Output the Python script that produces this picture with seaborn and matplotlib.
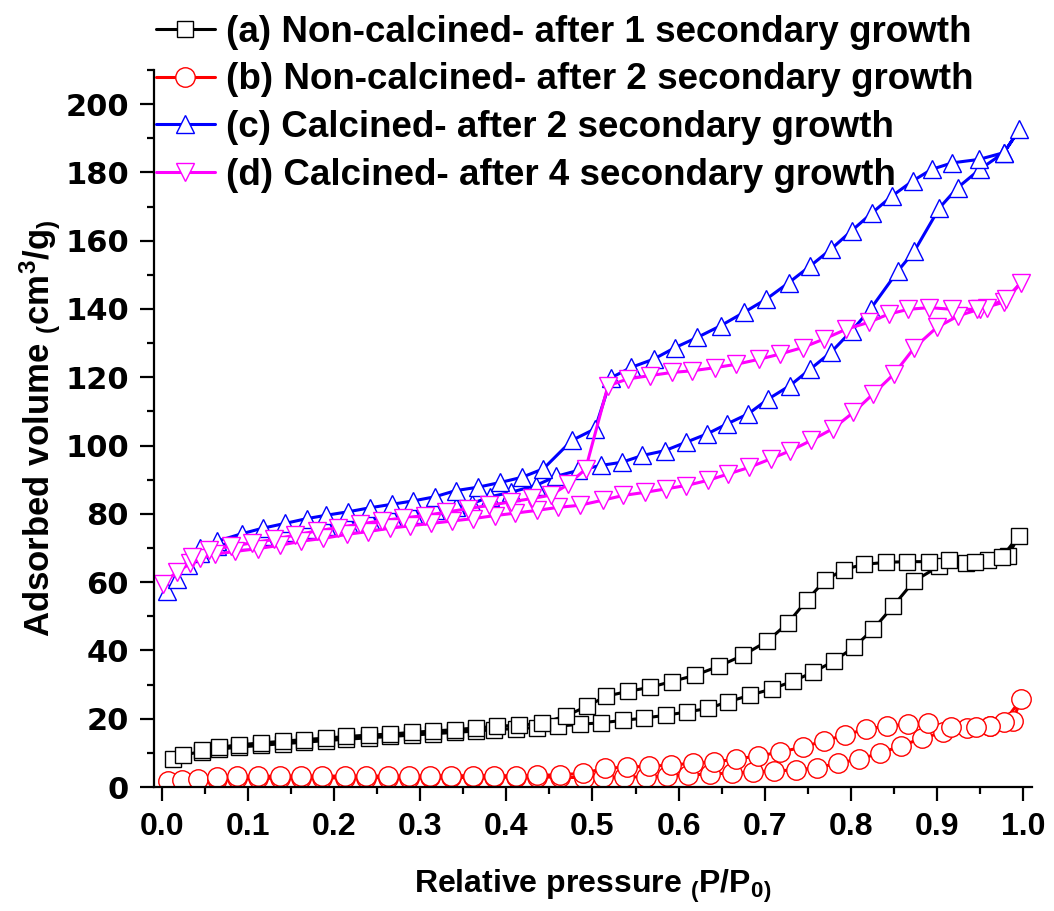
import numpy as np
import pandas as pd
import matplotlib
matplotlib.use('Agg')
import matplotlib.pyplot as plt
import seaborn as sns
from matplotlib.ticker import MultipleLocator

# isotherm data: adsorption branch (low -> high P/P0) and desorption branch (high -> low)
a_ads_p = [0.013, 0.024, 0.046, 0.066, 0.09, 0.115, 0.14, 0.165, 0.19, 0.214, 0.24, 0.265, 0.29, 0.315,
           0.34, 0.365, 0.386, 0.411, 0.435, 0.46, 0.486, 0.51, 0.535, 0.56, 0.585, 0.61, 0.634, 0.657,
           0.683, 0.708, 0.733, 0.756, 0.78, 0.804, 0.826, 0.849, 0.873, 0.902, 0.934, 0.96, 0.983, 0.995]
a_ads_v = [8.2, 9.3, 10.4, 11.1, 11.7, 12.2, 12.7, 13.1, 13.6, 14.0, 14.4, 14.8, 15.2, 15.6,
           16.0, 16.4, 16.8, 17.1, 17.4, 17.8, 18.4, 18.8, 19.5, 20.2, 21.0, 22.0, 23.0, 24.9,
           26.9, 28.7, 31.0, 33.6, 36.8, 41.0, 46.2, 52.9, 60.2, 64.6, 65.5, 66.6, 67.8, 73.5]
a_des_p = [0.976, 0.944, 0.914, 0.891, 0.865, 0.841, 0.815, 0.792, 0.77, 0.749, 0.727, 0.703, 0.675,
           0.647, 0.619, 0.592, 0.567, 0.541, 0.516, 0.494, 0.469, 0.441, 0.415, 0.389, 0.365, 0.34,
           0.315, 0.29, 0.265, 0.24, 0.214, 0.19, 0.165, 0.14, 0.115, 0.09, 0.066, 0.046]
a_des_v = [67.5, 66.0, 66.4, 66.0, 66.0, 65.8, 65.2, 63.7, 60.5, 54.7, 48.0, 42.7, 38.6,
           35.4, 32.7, 30.9, 29.2, 28.0, 26.6, 23.7, 20.8, 18.7, 18.1, 17.8, 17.3, 16.8,
           16.4, 16.0, 15.5, 15.2, 14.8, 14.3, 13.9, 13.4, 12.9, 12.4, 11.6, 10.9]

b_ads_p = [0.007, 0.023, 0.042, 0.064, 0.087, 0.112, 0.137, 0.162, 0.186, 0.212, 0.237, 0.262, 0.287,
           0.311, 0.336, 0.361, 0.386, 0.411, 0.436, 0.462, 0.49, 0.512, 0.537, 0.562, 0.587, 0.611,
           0.636, 0.662, 0.686, 0.711, 0.736, 0.761, 0.785, 0.81, 0.834, 0.858, 0.883, 0.907, 0.935,
           0.962, 0.988, 0.998]
b_ads_v = [1.8, 2.1, 2.3, 2.4, 2.5, 2.5, 2.6, 2.6, 2.6, 2.7, 2.7, 2.7, 2.7,
           2.8, 2.8, 2.8, 2.8, 2.9, 2.9, 2.9, 2.7, 2.8, 2.9, 3.0, 3.2, 3.5,
           3.8, 4.1, 4.4, 4.7, 5.0, 5.6, 7.0, 8.2, 9.9, 12.0, 14.3, 16.0, 17.3,
           17.8, 19.3, 25.8]
b_des_p = [0.978, 0.962, 0.946, 0.916, 0.89, 0.866, 0.842, 0.818, 0.793, 0.769, 0.744, 0.718, 0.692,
           0.667, 0.641, 0.617, 0.591, 0.566, 0.54, 0.515, 0.489, 0.462, 0.436, 0.411, 0.386, 0.361,
           0.336, 0.311, 0.287, 0.262, 0.237, 0.212, 0.186, 0.162, 0.137, 0.112, 0.087, 0.064]
b_des_v = [19.0, 17.8, 17.5, 17.5, 18.7, 18.4, 17.8, 17.0, 15.2, 13.5, 11.7, 10.2, 9.1,
           8.2, 7.3, 7.0, 6.4, 6.1, 5.8, 5.5, 4.0, 3.6, 3.4, 3.3, 3.3, 3.3,
           3.3, 3.2, 3.2, 3.2, 3.2, 3.2, 3.2, 3.2, 3.2, 3.1, 3.1, 3.0]

c_ads_p = [0.006, 0.017, 0.03, 0.044, 0.064, 0.093, 0.117, 0.143, 0.168, 0.191, 0.216, 0.242, 0.267,
           0.292, 0.317, 0.342, 0.36, 0.381, 0.405, 0.434, 0.458, 0.483, 0.51, 0.534, 0.558, 0.584,
           0.609, 0.633, 0.656, 0.681, 0.704, 0.729, 0.753, 0.777, 0.801, 0.823, 0.855, 0.874, 0.903,
           0.924, 0.95, 0.978, 0.996]
c_ads_v = [57.5, 61.0, 65.0, 68.5, 70.5, 72.3, 73.6, 74.6, 75.6, 76.5, 77.4, 78.3, 79.2,
           80.1, 81.0, 82.0, 83.0, 85.0, 86.3, 88.3, 91.0, 92.7, 94.2, 95.1, 97.1, 98.5,
           101.0, 103.4, 106.3, 109.3, 113.6, 117.5, 122.4, 127.3, 133.6, 140.0, 151.2, 157.0, 169.6,
           175.5, 180.9, 185.8, 192.6]
c_des_p = [0.978, 0.949, 0.918, 0.894, 0.872, 0.848, 0.825, 0.801, 0.777, 0.753, 0.728, 0.702, 0.676,
           0.649, 0.622, 0.596, 0.571, 0.545, 0.522, 0.503, 0.476, 0.443, 0.418, 0.393, 0.367, 0.341,
           0.317, 0.292, 0.267, 0.242, 0.216, 0.191, 0.168, 0.143, 0.117, 0.093, 0.064, 0.044]
c_des_v = [185.8, 183.8, 182.8, 180.9, 177.5, 173.1, 168.2, 162.9, 157.5, 152.6, 147.7, 142.9, 139.0,
           135.1, 131.7, 128.7, 125.3, 122.9, 119.9, 104.9, 101.5, 93.2, 90.7, 89.2, 87.8, 86.8,
           85.0, 83.8, 82.8, 81.8, 80.6, 79.6, 78.6, 77.2, 75.8, 74.2, 72.0, 70.0]

d_ads_p = [0.001, 0.017, 0.033, 0.044, 0.062, 0.085, 0.111, 0.137, 0.162, 0.187, 0.215, 0.239, 0.265,
           0.288, 0.313, 0.337, 0.361, 0.387, 0.41, 0.435, 0.46, 0.485, 0.512, 0.536, 0.561, 0.585,
           0.609, 0.634, 0.658, 0.682, 0.707, 0.73, 0.754, 0.779, 0.803, 0.826, 0.85, 0.874, 0.9,
           0.925, 0.95, 0.978, 0.998]
d_ads_v = [59.6, 62.9, 65.5, 67.0, 68.2, 69.0, 69.8, 70.8, 72.0, 72.8, 74.0, 74.8, 75.8,
           76.5, 77.2, 77.9, 78.6, 79.5, 80.2, 81.0, 81.9, 82.5, 84.0, 85.4, 86.3, 87.3,
           88.3, 89.8, 91.7, 93.6, 96.1, 98.5, 101.5, 104.9, 109.7, 115.1, 120.9, 128.7, 134.6,
           138.0, 140.0, 142.0, 147.7]
d_des_p = [0.98, 0.958, 0.947, 0.918, 0.891, 0.867, 0.844, 0.821, 0.795, 0.769, 0.744, 0.718, 0.694,
           0.667, 0.642, 0.616, 0.592, 0.567, 0.541, 0.518, 0.492, 0.472, 0.452, 0.43, 0.405, 0.38,
           0.355, 0.33, 0.305, 0.28, 0.255, 0.23, 0.205, 0.18, 0.155, 0.13, 0.105, 0.08, 0.055, 0.035]
d_des_v = [143.0, 140.4, 139.9, 139.9, 140.4, 139.9, 138.5, 136.1, 134.1, 131.2, 128.7, 126.8, 125.3,
           123.8, 122.8, 121.9, 121.4, 120.5, 119.5, 117.5, 93.1, 88.7, 85.5, 84.5, 83.5, 82.5,
           81.5, 80.5, 79.5, 78.8, 78.0, 77.0, 76.0, 75.0, 73.8, 72.5, 71.5, 70.5, 69.5, 67.5]

labels = ['(a) Non-calcined- after 1 secondary growth',
          '(b) Non-calcined- after 2 secondary growth',
          '(c) Calcined- after 2 secondary growth',
          '(d) Calcined- after 4 secondary growth']
colors = ['#000000', '#FF0000', '#0000FF', '#FF00FF']
markers = ['s', 'o', '^', 'v']
x_ticks = [0.0, 0.1, 0.2, 0.3, 0.4, 0.5, 0.6, 0.7, 0.8, 0.9, 1.0]
y_ticks = [0, 20, 40, 60, 80, 100, 120, 140, 160, 180, 200]

sns.set_style('ticks')
plt.rcParams['font.family'] = ['Liberation Sans', 'DejaVu Sans']
plt.rcParams['text.color'] = 'black'
plt.rcParams['axes.labelcolor'] = 'black'
plt.rcParams['xtick.color'] = 'black'
plt.rcParams['ytick.color'] = 'black'
plt.rcParams['mathtext.fontset'] = 'custom'
plt.rcParams['mathtext.rm'] = 'Liberation Sans:bold'
plt.rcParams['mathtext.it'] = 'Liberation Sans:bold'
plt.rcParams['mathtext.bf'] = 'Liberation Sans:bold'

fig, ax = plt.subplots(figsize=(10.54, 9.11), dpi=100)
fig.subplots_adjust(left=0.1461, right=0.9791, bottom=0.1361, top=0.9232)

series = [(a_ads_p, a_ads_v, a_des_p, a_des_v),
          (b_ads_p, b_ads_v, b_des_p, b_des_v),
          (c_ads_p, c_ads_v, c_des_p, c_des_v),
          (d_ads_p, d_ads_v, d_des_p, d_des_v)]
sizes = [12, 14, 13, 13]

for i, (ap, av, dp, dv) in enumerate(series):
    df = pd.DataFrame({'p': ap + dp, 'v': av + dv})
    sns.lineplot(data=df, x='p', y='v', sort=False, estimator=None, ax=ax,
                 color=colors[i], linewidth=2.2, marker=markers[i], markersize=sizes[i],
                 markerfacecolor='white', markeredgecolor=colors[i], markeredgewidth=1.0,
                 label=labels[i])

ax.set_xlim(-0.0093, 1.0105)
ax.set_ylim(0, 210)
ax.set_xticks(x_ticks, labels=['%.1f' % t for t in x_ticks], fontsize=23, fontweight='bold',
              color='black')
ax.set_yticks(y_ticks, labels=[str(t) for t in y_ticks], fontsize=22, fontweight='bold',
              fontfamily='DejaVu Sans', color='black')
ax.xaxis.set_minor_locator(MultipleLocator(0.05))
ax.yaxis.set_minor_locator(MultipleLocator(10))
ax.tick_params(which='major', direction='out', length=10, width=1.6, color='black')
ax.tick_params(which='minor', direction='out', length=5, width=1.6, color='black')
ax.tick_params(axis='x', pad=8)
ax.tick_params(axis='y', pad=8)
sns.despine(ax=ax)
for s in ['left', 'bottom']:
    ax.spines[s].set_linewidth(1.6)
    ax.spines[s].set_color('black')

ax.set_ylabel(r'Adsorbed volume $_{(}$cm$^{3}$/g$_{)}$', fontsize=25, fontweight='bold')
ax.yaxis.set_label_coords(-0.104, 0.5)
ax.set_xlabel(r'Relative pressure $_{(}$P/P$_{0}$$_{)}$', fontsize=23, fontweight='bold')
ax.xaxis.set_label_coords(0.5, -0.113)

ax.get_legend().remove()
leg = fig.legend(loc='upper left', bbox_to_anchor=(0.148, 0.984), frameon=False,
                 prop={'weight': 'bold', 'size': 26.5},
                 handlelength=1.6, handletextpad=0.3, labelspacing=0.35, borderpad=0,
                 borderaxespad=0)

plt.savefig('out.png', dpi=100)
